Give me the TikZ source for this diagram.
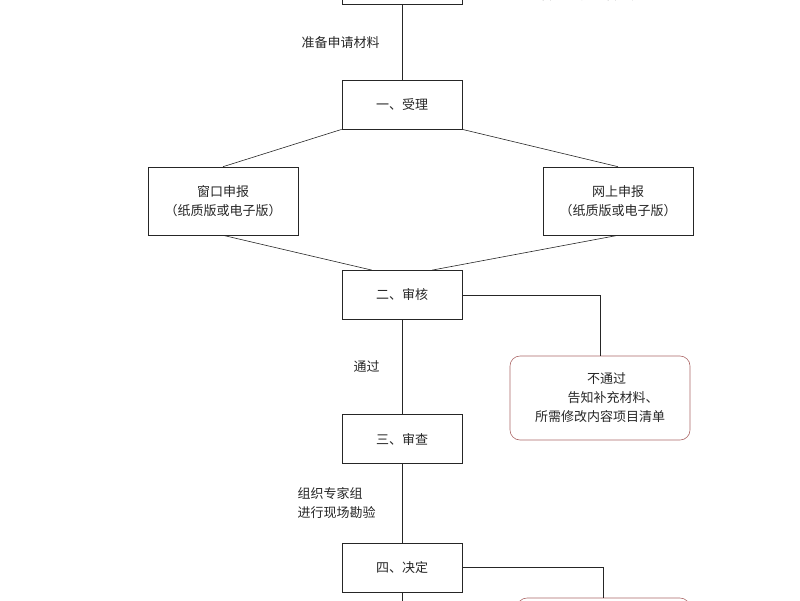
\documentclass[tikz,border=0pt]{standalone}
\usepackage{fontspec}
\setmainfont{Noto Sans CJK SC}
\usetikzlibrary{positioning, calc}

\tikzset{
  stage/.style={draw, thick, minimum width=120pt, minimum height=49pt, inner sep=0pt},
  way/.style={draw, minimum width=150pt, minimum height=68pt, align=center, inner sep=0pt},
  fail/.style={draw=red!45!black!60, rounded corners=10pt, minimum width=180pt, minimum height=84pt, align=center},
  lbl/.style={align=left, inner sep=0pt}
}

\begin{document}
\begin{tikzpicture}[x=1pt, y=-1pt, font=\fontsize{13}{19}\selectfont, color=black!85, semithick]
      \useasboundingbox (0,0) rectangle (800,600);
      \clip (0,0) rectangle (800,600);
      \node[stage] (ask) at (402,-20) {};
      \node[lbl, anchor=west] (askt) at (540,-5) {咨询、窗口咨询）};
      \node[stage] (accept) at (402,104.5) {一、受理};
      \node[way] (window) at (223,201) {窗口申报\\（纸质版或电子版）};
      \node[way] (online) at (618,201) {网上申报\\（纸质版或电子版）};
      \node[stage] (check) at (402,295) {二、审核};
      \node[fail] (nopass) at (600,398) {\quad 不通过\\\quad\quad 告知补充材料、\\所需修改内容项目清单};
      \node[stage] (review) at (402,439) {三、审查};
      \node[stage] (decide) at (402,567.5) {四、决定};
      \node[fail, minimum width=173pt] (final) at (603.5,640) {};
      % connectors
      \draw (ask) -- node[lbl, left=22pt] {准备申请材料} (accept);
      \draw (accept.south west) -- (window.north);
      \draw (accept.south east) -- (online.north);
      \draw (window.south) -- ($(check.north west)!0.25!(check.north east)$);
      \draw (online.south) -- ($(check.north west)!0.75!(check.north east)$);
      \draw (check.east) -| (nopass.north);
      \draw (check) -- node[lbl, left=22pt] {通过} (review);
      \draw (review) -- node[lbl, left=26pt] {组织专家组\\进行现场勘验} (decide);
      \draw (decide.east) -| (final.north);
      \draw (decide.south) -- ++(0,20);
\end{tikzpicture}
\end{document}
